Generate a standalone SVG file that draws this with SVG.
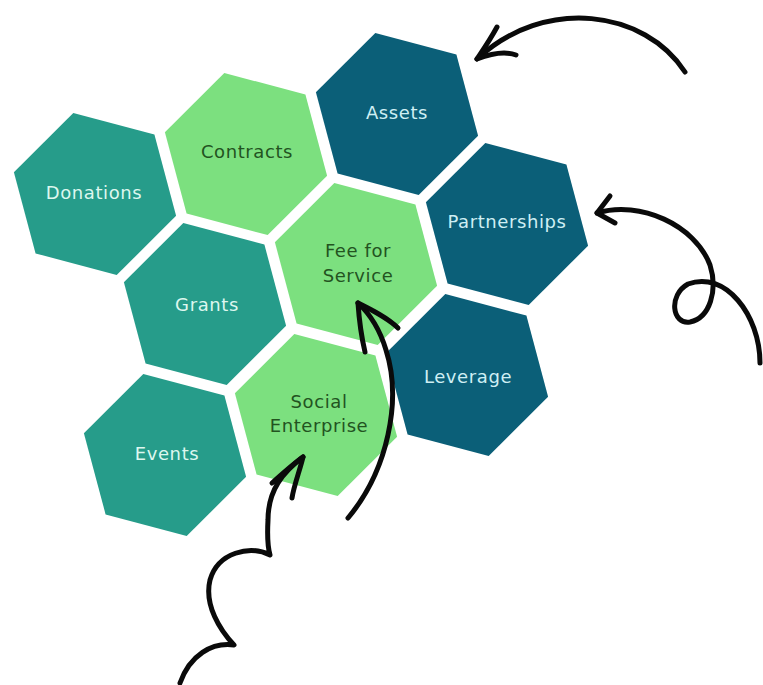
<svg xmlns="http://www.w3.org/2000/svg" xmlns:xlink="http://www.w3.org/1999/xlink" width="763" height="685" viewBox="0 0 763 685">
  <style>
    .teal { fill: #269C8A; }
    .green { fill: #7CE07F; }
    .navy { fill: #0B5F78; }
    text { font-family: "DejaVu Sans", "Liberation Sans", sans-serif; font-size: 18px; letter-spacing: 0.6px; text-anchor: middle; }
    .on-teal { fill: #DDF7EF; }
    .on-green { fill: #23531F; }
    .on-navy { fill: #CFEFF4; }
    .stroke { fill: none; stroke: #0A0A0A; stroke-width: 5; stroke-linecap: round; stroke-linejoin: round; }
  </style>
  <defs>
    <!-- hexagon of radius 84, rotated 15 degrees -->
    <polygon id="hex" points="-21.7,-81.1 59.4,-59.4 81.1,21.7 21.7,81.1 -59.4,59.4 -81.1,-21.7"/>
  </defs>

  <rect width="763" height="685" fill="#FFFFFF"/>

  <g id="donations">
    <use xlink:href="#hex" x="95" y="194" class="teal"/>
    <text x="94" y="199" class="on-teal">Donations</text>
  </g>
  <g id="contracts">
    <use xlink:href="#hex" x="246" y="154" class="green"/>
    <text x="247" y="158" class="on-green">Contracts</text>
  </g>
  <g id="assets">
    <use xlink:href="#hex" x="397" y="114" class="navy"/>
    <text x="397" y="119" class="on-navy">Assets</text>
  </g>
  <g id="grants">
    <use xlink:href="#hex" x="205" y="304" class="teal"/>
    <text x="207" y="311" class="on-teal">Grants</text>
  </g>
  <g id="fee-for-service">
    <use xlink:href="#hex" x="356" y="264" class="green"/>
    <text x="358" y="257" class="on-green">Fee for</text>
    <text x="358" y="282" class="on-green">Service</text>
  </g>
  <g id="partnerships">
    <use xlink:href="#hex" x="507" y="224" class="navy"/>
    <text x="507" y="228" class="on-navy">Partnerships</text>
  </g>
  <g id="events">
    <use xlink:href="#hex" x="165" y="455" class="teal"/>
    <text x="167" y="460" class="on-teal">Events</text>
  </g>
  <g id="social-enterprise">
    <use xlink:href="#hex" x="316" y="415" class="green"/>
    <text x="319" y="408" class="on-green">Social</text>
    <text x="319" y="432" class="on-green">Enterprise</text>
  </g>
  <g id="leverage">
    <use xlink:href="#hex" x="467" y="375" class="navy"/>
    <text x="468" y="383" class="on-navy">Leverage</text>
  </g>

  <g id="connectors">
    <!-- arc toward Assets -->
    <path class="stroke" d="M685,72 C645,10 545,-4 477,59"/>
    <path class="stroke" d="M497,27 C490,40 483,50 477,59 C490,54 505,51 516,55"/>
    <!-- looped arrow toward Partnerships -->
    <path class="stroke" d="M597,213 C640,200 695,225 710,265 C718,290 710,318 690,322 C672,325 668,295 688,284 C725,270 760,315 760,363"/>
    <path class="stroke" d="M610,196 L597,213 L615,223"/>
    <!-- long arrow up into Fee for Service -->
    <path class="stroke" d="M348,518 C388,470 402,400 386,350 C380,330 370,314 358,303"/>
    <path class="stroke" d="M365,352 C361,335 359,318 358,303 C372,310 388,318 398,328"/>
    <!-- wavy arrow up into Social Enterprise -->
    <path class="stroke" d="M303,457 C283,472 268,490 268,520 C267,538 268,548 270,555 C250,545 218,552 210,580 C204,605 220,630 234,645 C212,642 190,655 180,683"/>
    <path class="stroke" d="M272,483 C282,474 293,464 303,457 C300,470 294,485 292,498"/>
  </g>
</svg>
